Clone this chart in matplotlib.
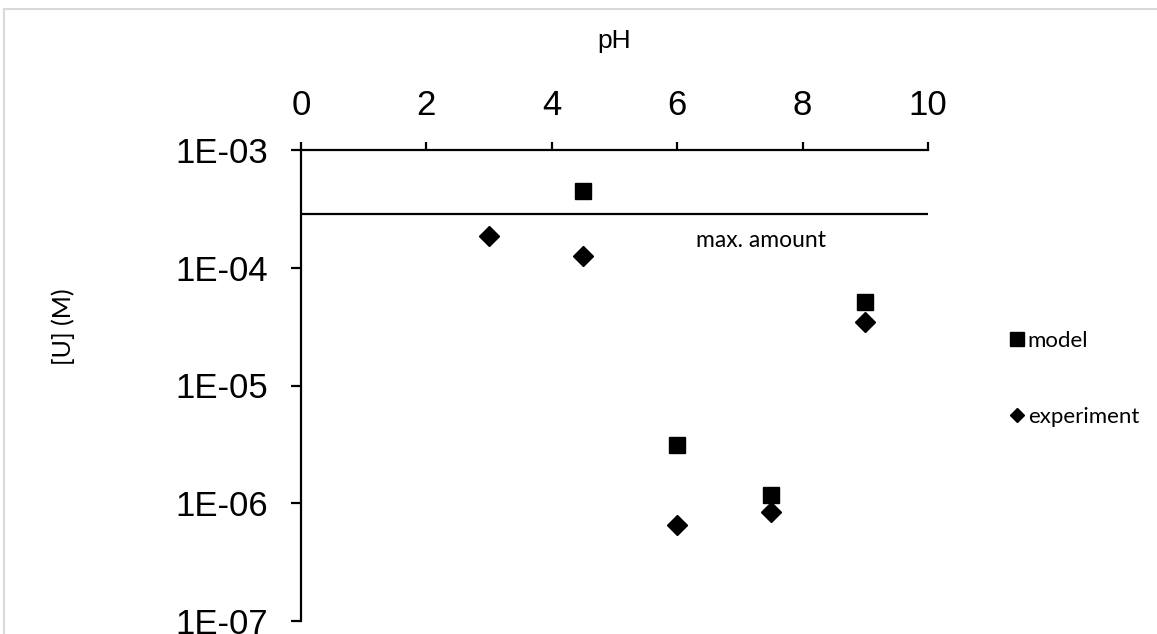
import numpy as np
import matplotlib.pyplot as plt
from matplotlib.lines import Line2D
from matplotlib.patches import Rectangle

# uranium concentration vs pH
model_ph = [4.5, 6.0, 7.5, 9.0]
model_u = [4.5e-4, 3.1e-6, 1.17e-6, 5.1e-5]
exp_ph = [3.0, 4.5, 6.0, 7.5, 9.0]
exp_u = [1.86e-4, 1.26e-4, 6.5e-7, 8.4e-7, 3.45e-5]
max_amount = 2.86e-4

xticks = [0, 2, 4, 6, 8, 10]
yticks = [1e-7, 1e-6, 1e-5, 1e-4, 1e-3]
ytick_labels = ['1E-07', '1E-06', '1E-05', '1E-04', '1E-03']

W, H = 1157, 634
fig = plt.figure(figsize=(W / 100, H / 100), dpi=100)
ax = fig.add_axes([301 / W, 13 / H, 627 / W, 471 / H])

# light frame around the chart area
fig.patches.append(Rectangle((4 / W, -0.1), 1.2, (H - 9) / H + 0.1, transform=fig.transFigure,
                             fill=False, edgecolor='#d9d9d9', linewidth=1.5))

ax.plot(model_ph, model_u, 's', color='black', markersize=11.5, linestyle='none')
ax.plot(exp_ph, exp_u, 'D', color='black', markersize=10.5, linestyle='none')
ax.axhline(max_amount, color='black', linewidth=1.6)
ax.text(6.3, 1.72e-4, 'max. amount', fontsize=16.5, family='Lato', va='center', ha='left')

ax.set_yscale('log')
ax.set_xlim(0, 10)
ax.set_ylim(1e-7, 1e-3)
ax.set_xticks(xticks)
ax.set_yticks(yticks)
ax.set_yticklabels(ytick_labels)
ax.yaxis.set_minor_locator(plt.NullLocator())

ax.xaxis.tick_top()
ax.xaxis.set_label_position('top')
ax.spines['bottom'].set_visible(False)
ax.spines['right'].set_visible(False)
for s in ['top', 'left']:
    ax.spines[s].set_linewidth(1.6)

ax.tick_params(axis='x', direction='out', length=6, width=1.6, pad=14,
               labelsize=25, labelfontfamily='Liberation Sans')
ax.tick_params(axis='y', direction='out', length=7, width=1.6, pad=17,
               labelsize=25, labelfontfamily='Liberation Sans')

ax.set_xlabel('pH', fontsize=19, family='Liberation Sans', labelpad=30)
ax.set_ylabel('[U] (M)', fontsize=18, family='Lato')
ax.yaxis.set_label_coords(-0.36, 0.624)

handles = [Line2D([], [], marker='s', color='black', linestyle='none', markersize=10),
           Line2D([], [], marker='D', color='black', linestyle='none', markersize=7.5)]
fig.legend(handles, ['model', 'experiment'], loc='center left',
           bbox_to_anchor=(990 / W, 1 - 379 / H), frameon=False,
           prop={'family': 'Lato', 'size': 16}, handlelength=0.6, handletextpad=0.2,
           labelspacing=2.5)

fig.savefig('out.png', dpi=100)
